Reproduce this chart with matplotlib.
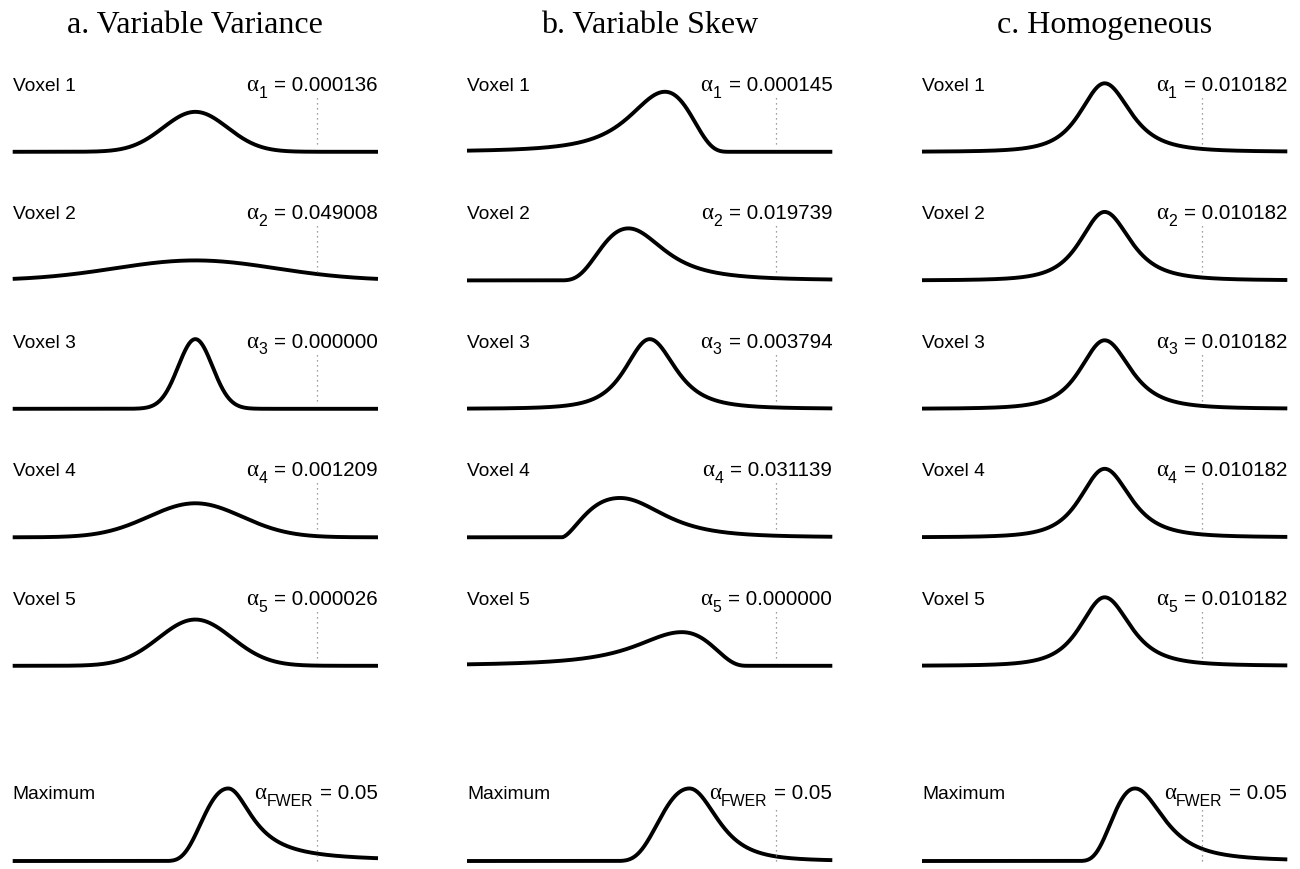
import numpy as np
import matplotlib
matplotlib.use("Agg")
import matplotlib.pyplot as plt

# ---------------- data ----------------
panel_titles = ["a. Variable Variance", "b. Variable Skew", "c. Homogeneous"]
row_labels = ["Voxel 1", "Voxel 2", "Voxel 3", "Voxel 4", "Voxel 5", "Maximum"]
alpha_subs = ["1", "2", "3", "4", "5", "FWER"]

alpha_a = ["0.000136", "0.049008", "0.000000", "0.001209", "0.000026", "0.05"]
alpha_b = ["0.000145", "0.019739", "0.003794", "0.031139", "0.000000", "0.05"]
alpha_c = ["0.010182", "0.010182", "0.010182", "0.010182", "0.010182", "0.05"]

thresholds = [3.32, 3.47, 2.67]

# curve shape parameters: mode, peak density, and for each side of the mode
# a kind ('n' normal, 't' Student-t tail, 'g' gamma-like bounded), width, shape
a_mode = [0.0, 0.0, 0.0, 0.0, 0.0, 0.90]
a_peak = [0.444, 0.222, 0.774, 0.378, 0.514, 0.806]
a_lkind = ["n", "n", "n", "n", "n", "g"]
a_lw = [0.88, 2.20, 0.47, 1.28, 1.00, 1.89]
a_ls = [0, 0, 0, 0, 0, 7.0]
a_rkind = ["n", "n", "n", "n", "n", "t"]
a_rw = [0.88, 2.20, 0.47, 1.28, 1.00, 0.82]
a_rs = [0, 0, 0, 0, 0, 1.0]

b_mode = [0.42, -0.58, 0.0, -0.81, 0.88, 1.09]
b_peak = [0.667, 0.578, 0.774, 0.437, 0.374, 0.806]
b_lkind = ["t", "g", "t", "g", "t", "g"]
b_lw = [1.06, 1.99, 0.69, 1.60, 1.43, 2.20]
b_ls = [2.0, 6.0, 3.0, 2.8, 1.5, 7.0]
b_rkind = ["g", "t", "t", "t", "g", "t"]
b_rw = [1.86, 1.06, 0.745, 1.23, 1.84, 0.79]
b_rs = [6.0, 2.0, 2.5, 3.0, 4.5, 3.0]

c_mode = [0.0, 0.0, 0.0, 0.0, 0.0, 0.83]
c_peak = [0.761, 0.761, 0.761, 0.761, 0.761, 0.806]
c_lkind = ["t", "t", "t", "t", "t", "g"]
c_lw = [0.69, 0.69, 0.69, 0.69, 0.69, 1.69]
c_ls = [3.0, 3.0, 3.0, 3.0, 3.0, 7.0]
c_rkind = ["t", "t", "t", "t", "t", "t"]
c_rw = [0.745, 0.745, 0.745, 0.745, 0.745, 0.86]
c_rs = [2.5, 2.5, 2.5, 2.5, 2.5, 2.0]

panels = [
    dict(mode=a_mode, peak=a_peak, lk=a_lkind, lw=a_lw, ls=a_ls, rk=a_rkind, rw=a_rw, rs=a_rs, alpha=alpha_a),
    dict(mode=b_mode, peak=b_peak, lk=b_lkind, lw=b_lw, ls=b_ls, rk=b_rkind, rw=b_rw, rs=b_rs, alpha=alpha_b),
    dict(mode=c_mode, peak=c_peak, lk=c_lkind, lw=c_lw, ls=c_ls, rk=c_rkind, rw=c_rw, rs=c_rs, alpha=alpha_c),
]


def side_shape(d, kind, w, s):
    u = np.abs(d)
    if kind == "n":
        return np.exp(-(u / w) ** 2 / 2.0)
    if kind == "t":
        return (1.0 + (u / w) ** 2 / s) ** (-(s + 1.0) / 2.0)
    r = np.clip(1.0 - u / w, 0.0, 1.0)
    return r ** (s - 1.0) * np.exp((s - 1.0) * (1.0 - r))


def curve(x, p, r):
    d = x - p["mode"][r]
    left = side_shape(d, p["lk"][r], p["lw"][r], p["ls"][r])
    right = side_shape(d, p["rk"][r], p["rw"][r], p["rs"][r])
    return p["peak"][r] * np.where(d < 0, left, right)


# ---------------- layout ----------------
W, H = 1300, 869
fig = plt.figure(figsize=(W / 100, H / 100), dpi=100)
fig.patch.set_facecolor("white")
renderer = fig.canvas.get_renderer()

zero_px = [151.8, 280.4, 408.8, 537.3, 665.8, 861.0]
panel_left_px = [12.7, 467.0, 922.0]
panel_w_px = 365.3
K = 90.0  # px per density unit
below, above = 5.0, 80.0
text_up = [61, 61, 61, 61, 61, 62]
gap_px = 7.0

x = np.linspace(-5, 5, 1500)

for i, pdat in enumerate(panels):
    left = panel_left_px[i]
    fig.text((left + panel_w_px / 2) / W, 1 - 33 / H, panel_titles[i],
             ha="center", va="baseline", family="Liberation Serif", fontsize=23)
    for r in range(6):
        z = zero_px[r]
        ax = fig.add_axes([left / W, (H - z - below) / H, panel_w_px / W, (below + above) / H])
        ax.set_xlim(-5, 5)
        ax.set_ylim(-below / K, above / K)
        ax.axis("off")
        y = curve(x, pdat, r)
        ax.plot(x, y, color="black", lw=2.8, solid_capstyle="butt", clip_on=False)
        t = thresholds[i]
        y0 = 0.0 if r == 5 else 8 / K
        ax.plot([t, t], [y0, 55 / K], color="#808080", lw=0.9,
                linestyle=(0, (1, 3)), clip_on=False)
        yb = text_up[r] / K
        ax.text(-5, yb, row_labels[r], ha="left", va="baseline",
                family="Liberation Sans", fontsize=13.8)
        main = ax.text(5, yb, "= " + pdat["alpha"][r], ha="right", va="baseline",
                       family="Liberation Sans", fontsize=14.8)
        wm = main.get_window_extent(renderer).width
        sub = ax.annotate(alpha_subs[r], xy=(5, yb), xytext=(-wm - gap_px, -6.7),
                          textcoords="offset pixels", ha="right", va="baseline",
                          family="Liberation Sans", fontsize=11.4, annotation_clip=False)
        ws = sub.get_window_extent(renderer).width
        ax.annotate("\u03b1", xy=(5, yb), xytext=(-wm - gap_px - ws - 0.3, 0),
                    textcoords="offset pixels", ha="right", va="baseline",
                    family="Liberation Serif", fontsize=16.5, annotation_clip=False)

fig.savefig("out.png", dpi=100, facecolor="white")
